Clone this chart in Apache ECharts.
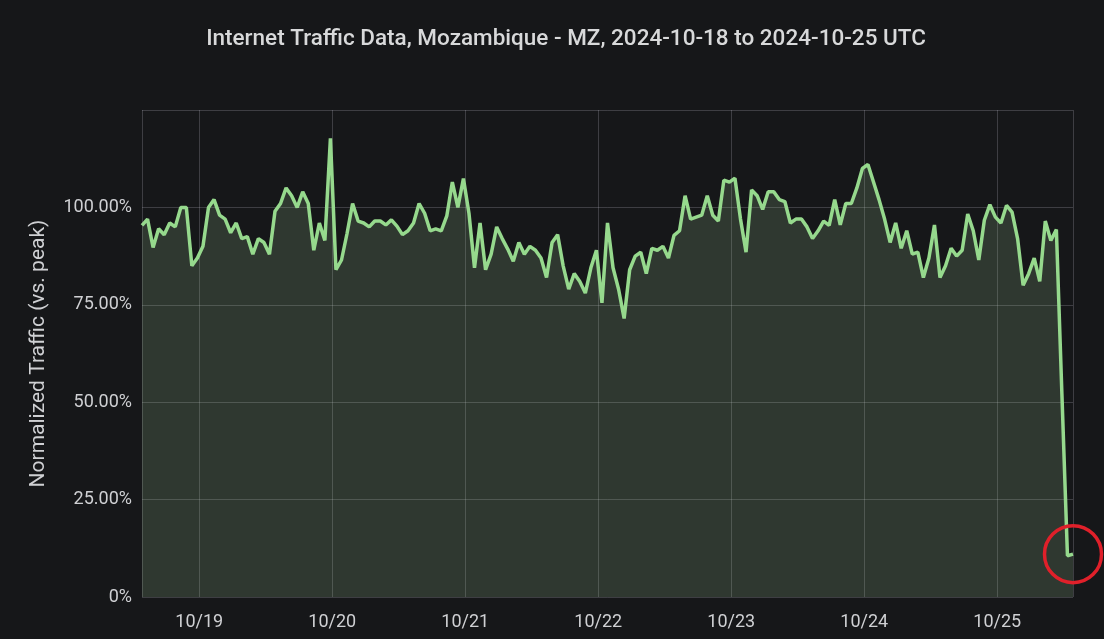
<!DOCTYPE html>
<html>
<head>
<meta charset="utf-8">
<script src="https://cdn.jsdelivr.net/npm/echarts@6/dist/echarts.min.js"></script>
<style>
  html, body { margin: 0; padding: 0; background: #161719; }
  #main { width: 1104px; height: 639px; }
</style>
</head>
<body>
<div id="main"></div>
<script>
// hourly samples, first one at 2024-10-18 13:40 UTC
var startTime = Date.UTC(2024, 9, 18, 13, 40)
var traffic = [
  95.4, 97, 89.7, 94.5, 93, 96, 95, 100, 100, 85,
  87, 90, 100, 102, 98, 97, 93.5, 96, 92, 92.5,
  88, 92, 91, 88, 99, 101, 105, 103, 100, 104,
  101, 89, 96, 91.5, 117.7, 84, 86.5, 93.3, 101, 96.5,
  96, 95, 96.5, 96.5, 95.5, 96.8, 95.2, 93, 94, 96,
  101, 98.5, 94, 94.5, 94, 97.8, 106.5, 100, 107.4, 98.5,
  84.5, 96, 84, 88, 95, 92, 89.3, 86.2, 91, 88,
  90, 89, 87, 82, 91, 93, 85, 79, 83, 81,
  78, 84.5, 89, 75.5, 96, 84.5, 79, 71.5, 84, 87.5,
  88.5, 83, 89.5, 89, 90, 87, 92.8, 94, 103, 97,
  97.5, 98, 103, 98, 96.5, 107, 106.5, 107.5, 97, 88.5,
  104.5, 103, 99.5, 104, 104, 102, 101.5, 96, 97, 97,
  95, 92, 94, 96.5, 95.4, 102, 95.5, 101, 101, 105,
  110, 111, 106.5, 102, 97, 91, 96, 89.5, 94, 88,
  88.5, 82, 87, 95.5, 82, 85, 89.5, 87.5, 89, 98.3,
  94, 86.5, 96.7, 100.7, 97.5, 96, 100.5, 98.8, 92, 80,
  83, 87, 81, 96.5, 91.5, 94.3, 52, 10.6, 11
]
var yTicks = [0, 25, 50, 75, 100, 125]

var seriesData = []
for (var i = 0; i < traffic.length; i++) {
  seriesData.push([startTime + i * 3600 * 1000, traffic[i]])
}
var lastPoint = seriesData[seriesData.length - 1]

var myChart = echarts.init(document.getElementById('main'))
myChart.setOption({
  animation: false,
  useUTC: true,
  backgroundColor: '#161719',
  textStyle: {
    fontFamily: 'Roboto'
  },
  title: {
    text: 'Internet Traffic Data, Mozambique - MZ, 2024-10-18 to 2024-10-25 UTC',
    left: 561,
    top: 23,
    textAlign: 'center',
    textStyle: {
      color: '#d8d9da',
      fontSize: 22.5,
      fontWeight: 500,
      fontFamily: 'Roboto'
    }
  },
  grid: {
    left: 142,
    right: 31,
    top: 110,
    bottom: 42
  },
  xAxis: {
    type: 'time',
    min: seriesData[0][0],
    max: lastPoint[0],
    minInterval: 24 * 3600 * 1000,
    maxInterval: 24 * 3600 * 1000,
    axisLine: { show: false },
    axisTick: { show: false },
    axisLabel: {
      color: '#cfd0d3',
      fontSize: 18,
      margin: 16,
      showMinLabel: false,
      showMaxLabel: false,
      formatter: function (val) {
        var d = new Date(val)
        return (d.getUTCMonth() + 1) + '/' + d.getUTCDate()
      }
    },
    splitLine: {
      show: true,
      lineStyle: { color: 'rgba(204, 204, 220, 0.22)', width: 1 }
    }
  },
  yAxis: {
    type: 'value',
    min: yTicks[0],
    max: yTicks[yTicks.length - 1],
    interval: 25,
    name: 'Normalized Traffic (vs. peak)',
    nameLocation: 'middle',
    nameGap: 93,
    nameTextStyle: {
      color: '#cfd0d3',
      fontSize: 21
    },
    axisLine: { show: false },
    axisTick: { show: false },
    axisLabel: {
      color: '#cfd0d3',
      fontSize: 18,
      margin: 10,
      showMaxLabel: false,
      formatter: function (v) {
        return v === 0 ? '0%' : v.toFixed(2) + '%'
      }
    },
    splitLine: {
      show: true,
      lineStyle: { color: 'rgba(204, 204, 220, 0.22)', width: 1 }
    }
  },
  series: [
    {
      name: 'Traffic',
      type: 'line',
      data: seriesData,
      showSymbol: false,
      symbol: 'none',
      lineStyle: {
        color: '#96d98d',
        width: 3.5
      },
      areaStyle: {
        color: 'rgba(160, 200, 150, 0.27)'
      },
      markPoint: {
        silent: true,
        symbol: 'circle',
        symbolSize: 57,
        label: { show: false },
        itemStyle: {
          color: 'rgba(0, 0, 0, 0)',
          borderColor: '#e0202a',
          borderWidth: 3.5
        },
        data: [
          { coord: lastPoint }
        ]
      }
    }
  ]
})
</script>
</body>
</html>
